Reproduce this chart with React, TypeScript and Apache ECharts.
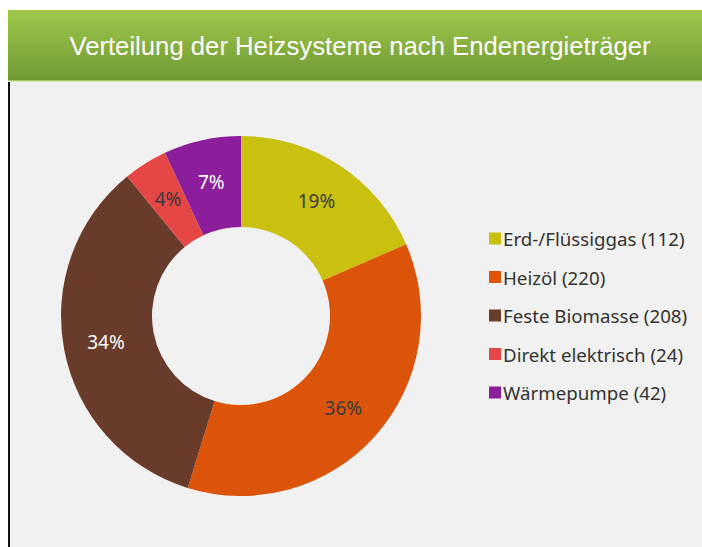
import React, { useEffect, useRef } from "react";
import * as echarts from "echarts";

const categories = ["Erd-/Flüssiggas", "Heizöl", "Feste Biomasse", "Direkt elektrisch", "Wärmepumpe"];
const values = [112, 220, 208, 24, 42];
const colors = ["#c9c00f", "#dc5409", "#683b2b", "#e54646", "#8c1e9b"];
const labelColors = ["#3a3a3a", "#3a3a3a", "#ffffff", "#3a3a3a", "#ffffff"];
const titleText = "Verteilung der Heizsysteme nach Endenergieträger";

export default function App() {
  const ref = useRef<HTMLDivElement>(null);
  useEffect(() => {
    if (!ref.current) return;
    const chart = echarts.init(ref.current, null, { renderer: "svg" });
    const data = categories.map((name, i) => ({
      name,
      value: values[i],
      itemStyle: { color: colors[i] },
      label: { color: labelColors[i] },
    }));
    chart.setOption({
      animation: false,
      backgroundColor: "#ffffff",
      graphic: [
        {
          type: "rect",
          silent: true,
          z: -10,
          shape: { x: 10, y: 82, width: 692, height: 465 },
          style: { fill: "#f1f1f1" },
        },
        {
          type: "rect",
          silent: true,
          z: -9,
          shape: { x: 8, y: 82, width: 2, height: 465 },
          style: { fill: "#111111" },
        },
        {
          type: "rect",
          silent: true,
          z: -9,
          shape: { x: 8, y: 10, width: 694, height: 71 },
          style: {
            fill: new echarts.graphic.LinearGradient(0, 0, 0, 1, [
              { offset: 0, color: "#9fc84b" },
              { offset: 1, color: "#6f9834" },
            ]),
          },
        },
        {
          type: "rect",
          silent: true,
          z: -9,
          shape: { x: 8, y: 80, width: 694, height: 1.5 },
          style: { fill: "#a9cc6a" },
        },
        {
          type: "text",
          silent: true,
          z: 10,
          x: 360,
          y: 46,
          style: {
            text: titleText,
            fill: "#ffffff",
            font: '25.7px "Liberation Sans", Arial, sans-serif',
            textAlign: "center",
            textVerticalAlign: "middle",
          },
        },
      ],
      legend: {
        orient: "vertical",
        left: 484,
        top: 224,
        itemWidth: 12,
        itemHeight: 12,
        itemGap: 19.5,
        icon: "rect",
        textStyle: {
          color: "#333333",
          fontSize: 18.7,
          fontFamily: "Noto Sans",
          padding: [0, 0, 0, -3],
        },
        formatter: (name: string) => {
          const i = categories.indexOf(name);
          return `${name} (${values[i]})`;
        },
        data: categories,
      },
      series: [
        {
          type: "pie",
          center: [241, 316],
          radius: [89, 180],
          startAngle: 90,
          clockwise: true,
          avoidLabelOverlap: false,
          percentPrecision: 0,
          label: {
            show: true,
            position: "inside",
            fontSize: 19,
            fontFamily: "Noto Sans",
            formatter: "{d}%",
          },
          labelLine: { show: false },
          emphasis: { disabled: true },
          data,
        },
      ],
    });
    return () => chart.dispose();
  }, []);
  return (
    <div
      ref={ref}
      style={{ position: "fixed", left: 0, top: 0, width: 702, height: 547 }}
    />
  );
}
